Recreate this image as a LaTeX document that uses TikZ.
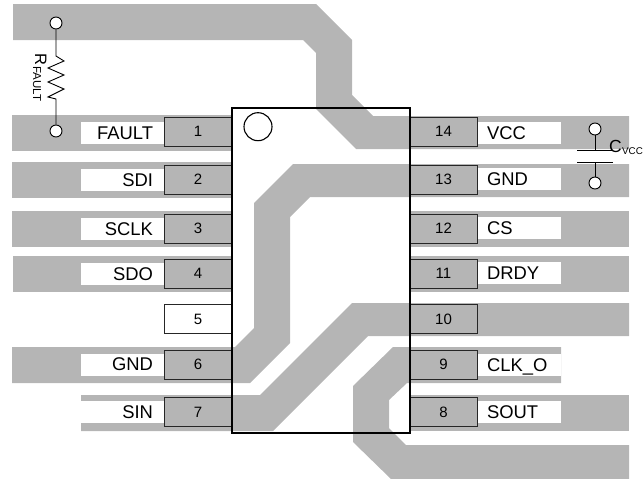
\documentclass[tikz,border=0pt]{standalone}
\usepackage{fontspec}
\setmainfont{Liberation Sans}
\definecolor{tracegray}{HTML}{B5B5B5}

\begin{document}
\begin{tikzpicture}[x=1pt,y=-1pt,
  trace/.style={fill=tracegray,draw=none},
  pad/.style={shape=rectangle,draw=black!85,line width=0.9pt,fill=tracegray,inner sep=0pt,minimum width=67pt,minimum height=29pt,font=\fontsize{15}{17}\selectfont},
  nopad/.style={pad,fill=white},
  leftlabel/.style={shape=rectangle,fill=white,inner ysep=0pt,inner xsep=12pt,text width=60pt,align=right,minimum height=22pt,text height=12.6pt,text depth=0pt,font=\fontsize{18.4}{20}\selectfont},
  rightlabel/.style={shape=rectangle,fill=white,inner ysep=0pt,inner xsep=10pt,text width=64pt,align=left,minimum height=22pt,text height=12.6pt,text depth=0pt,font=\fontsize{18.4}{20}\selectfont},
  terminal/.style={shape=circle,draw=black,line width=0.9pt,fill=white,inner sep=0pt,minimum size=12pt},
  wire/.style={draw=black,line width=0.9pt}]
\useasboundingbox (0,0) rectangle (643,479);

% traces on the left
\path[trace] (13,4) -- (316,4) -- (352,40) -- (352,95) -- (373,116) -- (629,116) -- (629,149) -- (356,149) -- (316,109) -- (316,53) -- (303,40) -- (13,40) -- cycle;
\path[trace] (12,115) rectangle (232,151);
\path[trace] (12,162) rectangle (232,198);
\path[trace] (12,211) rectangle (232,247);
\path[trace] (13,256) rectangle (232,292);
\path[trace] (12,347) -- (235,347) -- (254,328) -- (254,203) -- (293,164) -- (629,164) -- (629,197) -- (310,197) -- (290,217) -- (290,343) -- (250,383) -- (12,383) -- cycle;
\path[trace] (81,395) -- (260,395) -- (352,303) -- (629,303) -- (629,336) -- (368,336) -- (273,431) -- (81,431) -- cycle;

% traces on the right
\path[trace] (410,211) rectangle (629,247);
\path[trace] (410,256) rectangle (629,292);
\path[trace] (393,347) -- (561,347) -- (561,383) -- (407,383) -- (389,400) -- (389,428) -- (406,445) -- (629,445) -- (629,479) -- (391,479) -- (353,442) -- (353,386) -- cycle;
\path[trace] (410,395) rectangle (629,431);

% labels
\node[leftlabel] (lfault) at (123,132.7) {FAULT\hspace*{3pt}};
\node[leftlabel] (lsdi) at (123,180) {SDI};
\node[leftlabel] (lsclk) at (123,229) {SCLK};
\node[leftlabel] (lsdo) at (123,274) {SDO};
\node[leftlabel] (lgnd) at (123,364.5) {GND};
\node[leftlabel] (lsin) at (123,412) {SIN};
\node[rightlabel] (lvcc) at (519,132.7) {VCC};
\node[rightlabel] (lgndr) at (519,179) {GND};
\node[rightlabel] (lcs) at (519,228) {CS};
\node[rightlabel] (ldrdy) at (519,273) {DRDY};
\node[rightlabel] (lclko) at (519,365) {CLK\_O};
\node[rightlabel] (lsout) at (519,412) {SOUT};

% pads
\node[pad] (p1) at (198,131.5) {1};
\node[pad] (p2) at (198,179.5) {2};
\node[pad] (p3) at (198,228.7) {3};
\node[pad] (p4) at (198,273.8) {4};
\node[nopad] (p5) at (198,319) {5};
\node[pad] (p6) at (198,364.7) {6};
\node[pad] (p7) at (198,412) {7};
\node[pad] (p8) at (443.5,412) {8};
\node[pad] (p9) at (443.5,364.7) {9};
\node[pad] (p10) at (443.5,319) {10};
\node[pad] (p11) at (443.5,273.8) {11};
\node[pad] (p12) at (443.5,228.7) {12};
\node[pad] (p13) at (443.5,179.5) {13};
\node[pad] (p14) at (443.5,131.5) {14};

% package
\draw[black,line width=1.3pt] (232,108) rectangle (410,433);
\node[shape=circle,draw=black,line width=1.1pt,inner sep=0pt,minimum size=28pt] (dot) at (258,126.7) {};

% fault resistor
\node[terminal] (rtop) at (56,23) {};
\node[terminal] (rbot) at (56,131) {};
\draw[wire] (rtop) -- (56,56) -- (64,61) -- (48,68) -- (64,75) -- (48,82) -- (64,89) -- (48,97) -- (56,99) -- (rbot);
\node[rotate=-90,font=\fontsize{16.5}{18}\selectfont,anchor=base west,inner sep=0pt] (rname) at (35,53.5) {R};
\node[rotate=-90,font=\fontsize{11.5}{13}\selectfont,anchor=base west,inner sep=0pt] (rsub) at (33,66) {FAULT};

% vcc capacitor
\node[terminal] (ctop) at (595,129) {};
\node[terminal] (cbot) at (595,183) {};
\coordinate (cp1) at (595,150);
\coordinate (cp2) at (595,162);
\draw[wire] (ctop) -- (cp1);
\draw[wire] (cbot) -- (cp2);
\draw[wire] (577,150) -- (613,150);
\draw[wire] (577,162) -- (613,162);
\node[font=\fontsize{17.5}{20}\selectfont,anchor=base west,inner sep=0pt] (cname) at (609,152) {C};
\node[font=\fontsize{9.8}{12}\selectfont,anchor=base west,inner sep=0pt] (csub) at (622,154) {VCC};
\end{tikzpicture}
\end{document}
